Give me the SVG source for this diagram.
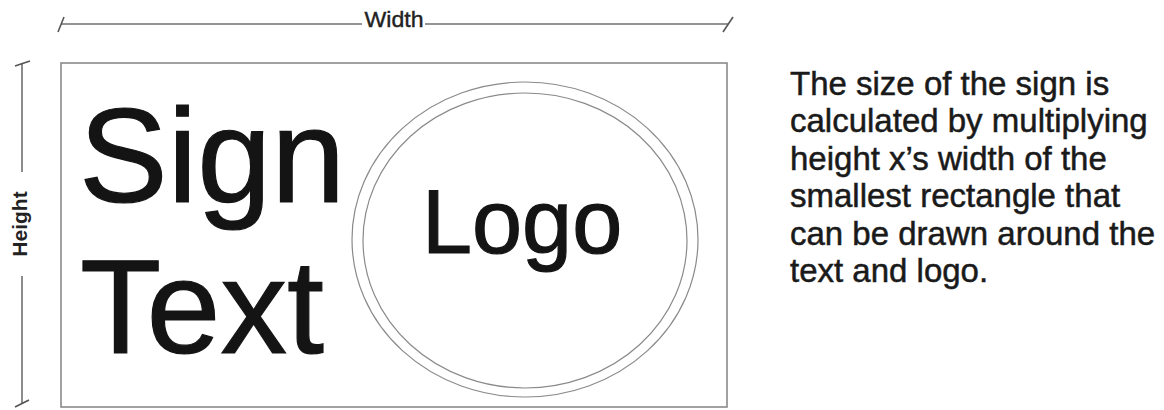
<svg xmlns="http://www.w3.org/2000/svg" width="1164" height="410" viewBox="0 0 1164 410">
<style>
.dim{stroke:#707070;stroke-width:1.6;fill:none}
.tick{stroke:#555;stroke-width:1.6;fill:none}
.box{stroke:#8a8a8a;stroke-width:1.6;fill:none}
.ring{stroke:#8a8a8a;stroke-width:1.2;fill:none}
.big{font-family:"Liberation Sans",Arial,sans-serif;fill:#141414;stroke:#141414;stroke-width:1.2}
.lbl{font-family:"Liberation Sans",Arial,sans-serif;fill:#222}
.para{font-family:"Liberation Sans",Arial,sans-serif;font-size:33px;fill:#1a1a1a;stroke:#1a1a1a;stroke-width:0.5}
</style>
<rect width="1164" height="410" fill="#fff"/>
<g id="connectors">
<line class="dim" x1="61" y1="24" x2="362" y2="24"/>
<line class="dim" x1="425" y1="24" x2="728" y2="24"/>
<line class="tick" x1="58" y1="32" x2="64" y2="17"/>
<line class="tick" x1="723" y1="32" x2="733" y2="17"/>
<line class="dim" x1="22" y1="63" x2="22" y2="172"/>
<line class="dim" x1="22" y1="276" x2="22" y2="403"/>
<line class="tick" x1="15" y1="66" x2="30" y2="61"/>
<line class="tick" x1="15" y1="407" x2="29" y2="400"/>
</g>
<g id="width-label"><text class="lbl" x="394" y="27" font-size="22" text-anchor="middle" textLength="59" lengthAdjust="spacingAndGlyphs" stroke="#222" stroke-width="0.4">Width</text></g>
<g id="height-label"><text class="lbl" font-weight="bold" font-size="21" text-anchor="middle" transform="translate(27,224) rotate(-90)">Height</text></g>
<g id="sign">
<rect class="box" x="61" y="63" width="666" height="344"/>
</g>
<g id="sign-text">
<text class="big" x="79" y="202" font-size="133">Sign</text>
<text class="big" x="80" y="353" font-size="133">Text</text>
</g>
<g id="logo">
<ellipse class="ring" cx="525" cy="239.5" rx="173" ry="157.5"/>
<ellipse class="ring" cx="525" cy="240.5" rx="162" ry="147.5"/>
<text class="big" x="422" y="253" font-size="90" stroke-width="0.9">Logo</text>
</g>
<g id="note">
<text class="para" x="790"><tspan x="790" y="95">The size of the sign is</tspan><tspan x="790" y="132">calculated by multiplying</tspan><tspan x="790" y="170">height x’s width of the</tspan><tspan x="790" y="207">smallest rectangle that</tspan><tspan x="790" y="245">can be drawn around the</tspan><tspan x="790" y="282">text and logo.</tspan></text>
</g>
</svg>
